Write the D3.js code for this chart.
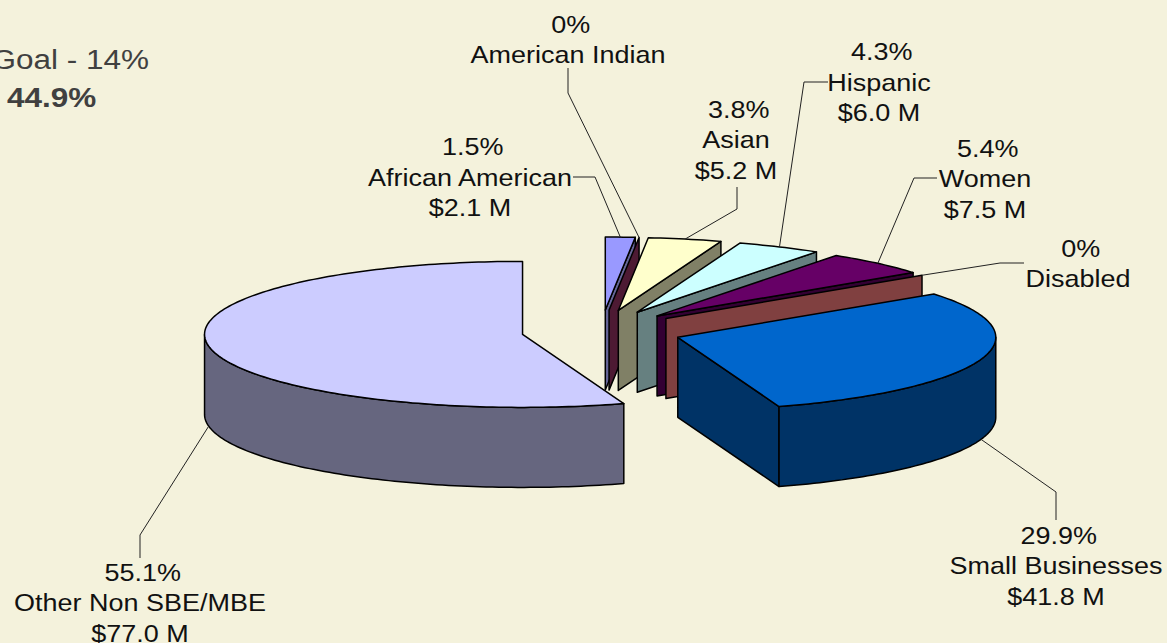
<!DOCTYPE html>
<html>
<head>
<meta charset="utf-8">
<script src="https://cdnjs.cloudflare.com/ajax/libs/d3/7.8.5/d3.min.js"></script>
<style>
  html, body { margin: 0; padding: 0; background: #f4f2dc; overflow: hidden; }
  text { font-family: "Liberation Sans", Arial, sans-serif; }
</style>
</head>
<body>
<div id="chart"></div>
<script>
// data, $ millions, clockwise from 12 o'clock
const categories = ["African American", "American Indian", "Asian", "Hispanic", "Women", "Disabled", "Small Businesses", "Other Non SBE/MBE"];
const amounts = [2.1, 0, 5.2, 6.0, 7.5, 0, 41.8, 77.0];
const percentLabels = ["1.5%", "0%", "3.8%", "4.3%", "5.4%", "0%", "29.9%", "55.1%"];
const amountLabels = ["$2.1 M", "", "$5.2 M", "$6.0 M", "$7.5 M", "", "$41.8 M", "$77.0 M"];

const goalLabel = "Goal - 14%";
const actualLabel = "44.9%";

// set the dimensions of the pie
const width = 1167;
const height = 643;
const cx = 601.5;
const cy = 331;
const rx = 318;
const ry = 73;
const depth = 80;
const explodeX = 80;
const explodeY = 21;
const textStretch = 1.125; // the original is wider than the font

// top colour and side colour of every slice
const topColors = ["#9999ff", "#993366", "#ffffcc", "#ccffff", "#660066", "#ff8080", "#0066cc", "#ccccff"];
const sideColors = ["#666699", "#4d1a33", "#808066", "#668080", "#330033", "#804040", "#003366", "#66667f"];

// label centre (x), first line baseline (y) and the leader elbows
const labelX = [470, 568, 736, 879, 985, 1078, 1056, 140];
const labelY = [155.5, 33, 118, 60.5, 157, 257, 544, 581];
const leaders = [
    [[573, 177], [595, 177]],
    [[568, 68], [568, 93]],
    [[737, 187], [737, 209]],
    [[828, 82], [804, 82]],
    [[937, 178], [914, 178]],
    [[1024, 263], [1000, 263]],
    [[1056, 520], [1056, 492]],
    [[140, 558], [140, 535]]
];

const svg = d3
    .select("#chart")
    .append("svg")
    .attr("width", width)
    .attr("height", height);

svg.append("rect").attr("width", width).attr("height", height).attr("fill", "#f4f2dc");

const pie = d3.pie().sort(null).startAngle(0).endAngle(2 * Math.PI);
const slices = pie(amounts);

// ellipse scales: angle goes clockwise from the top
function rimX(angle) { return rx * Math.sin(angle); }
function rimY(angle) { return -ry * Math.cos(angle); }

function arcPoints(a0, a1, ox, oy, dy) {
    const steps = Math.max(1, Math.ceil(Math.abs(a1 - a0) / 0.02));
    return d3.range(steps + 1).map((i) => {
        const a = a0 + (a1 - a0) * i / steps;
        return [ox + rimX(a), oy + rimY(a) + dy];
    });
}

const line = d3.line();
const stroke = "#000";

slices.forEach(function (s, i) {
    const mid = (s.startAngle + s.endAngle) / 2;
    const ox = cx + explodeX * Math.sin(mid);
    const oy = cy - explodeY * Math.cos(mid);
    s.ox = ox;
    s.oy = oy;
    s.mid = mid;

    const g = svg.append("g").attr("class", "slice");

    // cut face on the clockwise end, seen only on the right half
    if (Math.sin(s.endAngle) > 0.001) {
        const ex = ox + rimX(s.endAngle);
        const ey = oy + rimY(s.endAngle);
        g.append("path")
            .attr("d", line([[ox, oy], [ex, ey], [ex, ey + depth], [ox, oy + depth]]) + "Z")
            .attr("fill", sideColors[i])
            .attr("stroke", stroke)
            .attr("stroke-width", 1.5)
            .attr("stroke-linejoin", "round");
    }

    // outer wall, front part only
    const a0 = Math.max(s.startAngle, Math.PI / 2);
    const a1 = Math.min(s.endAngle, 3 * Math.PI / 2);
    if (a1 > a0) {
        const upper = arcPoints(a0, a1, ox, oy, 0);
        const lower = arcPoints(a1, a0, ox, oy, depth);
        g.append("path")
            .attr("d", line(upper.concat(lower)) + "Z")
            .attr("fill", sideColors[i])
            .attr("stroke", stroke)
            .attr("stroke-width", 1.5)
            .attr("stroke-linejoin", "round");
    }

    // top surface
    if (s.endAngle > s.startAngle) {
        g.append("path")
            .attr("d", line([[ox, oy]].concat(arcPoints(s.startAngle, s.endAngle, ox, oy, 0))) + "Z")
            .attr("fill", topColors[i])
            .attr("stroke", stroke)
            .attr("stroke-width", 1.5)
            .attr("stroke-linejoin", "round");
    }
});

// leaders go to the rim at the middle of each slice
slices.forEach(function (s, i) {
    const front = Math.cos(s.mid) < 0;
    const end = [s.ox + rimX(s.mid), s.oy + rimY(s.mid) + (front ? depth : 0)];
    svg.append("path")
        .attr("d", line(leaders[i].concat([end])))
        .attr("fill", "none")
        .attr("stroke", "#222")
        .attr("stroke-width", 1);

    const lines = [percentLabels[i], categories[i], amountLabels[i]].filter((t) => t !== "");
    svg.append("text")
        .attr("transform", `translate(${labelX[i]},0) scale(${textStretch},1)`)
        .attr("text-anchor", "middle")
        .attr("font-size", 24)
        .attr("fill", "#111")
        .selectAll("tspan")
        .data(lines)
        .join("tspan")
        .attr("x", (d, j) => (j === 0 ? 2.5 : 0)) // percent line sits a bit to the right
        .attr("y", (d, j) => labelY[i] + j * 30.4)
        .text((d) => d);
});

// goal note in the top left, cut by the window edge
svg.append("text")
    .attr("transform", `translate(-8.5,69) scale(${textStretch},1)`)
    .attr("font-size", 28)
    .attr("fill", "#404040")
    .text(goalLabel);
svg.append("text")
    .attr("transform", `translate(7,107) scale(${textStretch},1)`)
    .attr("font-size", 28)
    .attr("font-weight", "bold")
    .attr("fill", "#404040")
    .text(actualLabel);
</script>
</body>
</html>
